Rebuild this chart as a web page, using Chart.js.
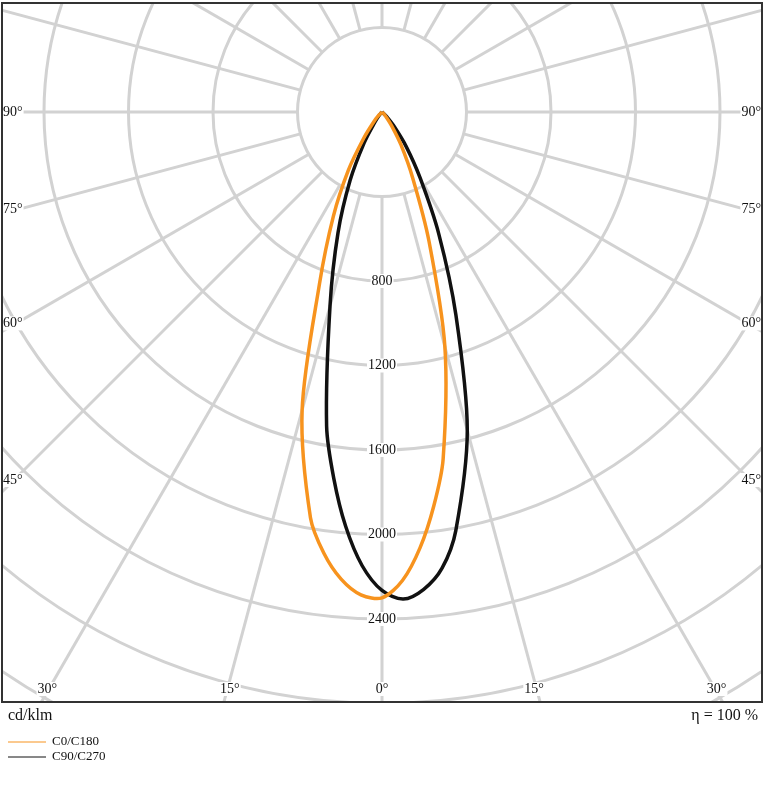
<!DOCTYPE html>
<html>
<head>
<meta charset="utf-8">
<script src="https://cdn.jsdelivr.net/npm/chart.js@4"></script>
<style>
  body { margin: 0; background: #fff; }
  #wrap { width: 778px; height: 800px; }
</style>
</head>
<body>
<div id="wrap"><canvas id="polar" width="778" height="800"></canvas></div>
<script>
// gamma angles (deg) and intensities (cd/klm)
const angles = [0, 2.5, 5, 7.5, 10, 15, 20, 25, 30, 35, 40, 45, 50, 60, 70, 80, 90];
const c0   = [2295, 2220, 2070, 1880, 1667, 1150, 650, 343, 180, 80, 30, 10, 0, 0, 0, 0, 0];
const c180 = [2300, 2288, 2220, 2107, 1950, 1461, 865, 545, 320, 150, 60, 20, 0, 0, 0, 0, 0];
const c90  = [2270, 2308, 2268, 2178, 2012, 1560, 1023, 635, 362, 200, 90, 30, 5, 0, 0, 0, 0];
const c270 = [2265, 2150, 1970, 1749, 1510, 951, 609, 357, 170, 60, 20, 5, 0, 0, 0, 0, 0];
const ringValues = [400, 800, 1200, 1600, 2000, 2400, 2800, 3200, 3600, 4000];
const ringLabels = [800, 1200, 1600, 2000, 2400];
const sideAngleLabels = [90, 75, 60, 45];
const bottomAngleLabels = [30, 15, 0];

function curve(right, left) {
    let pts = [];
    for (let i = angles.length - 1; i >= 0; i--) {
        let a = angles[i] * Math.PI / 180;
        pts.push({ x: -left[i] * Math.sin(a), y: left[i] * Math.cos(a) });
    }
    for (let i = 1; i < angles.length; i++) {
        let a = angles[i] * Math.PI / 180;
        pts.push({ x: right[i] * Math.sin(a), y: right[i] * Math.cos(a) });
    }
    return pts;
}

const serif = '"Liberation Serif", "DejaVu Serif", serif';

const gridPlugin = {
    id: 'polarGrid',
    beforeDatasetsDraw(chart) {
        const ctx = chart.ctx, xs = chart.scales.x, ys = chart.scales.y, ca = chart.chartArea;
        const cx = xs.getPixelForValue(0), cy = ys.getPixelForValue(0);
        const k = xs.getPixelForValue(400) - cx;
        ctx.save();
        ctx.beginPath();
        ctx.rect(ca.left, ca.top, ca.right - ca.left, ca.bottom - ca.top);
        ctx.clip();
        ctx.strokeStyle = '#d2d2d2';
        ctx.lineWidth = 3;
        ringValues.forEach(v => {
            ctx.beginPath();
            ctx.arc(cx, cy, v / 400 * k, 0, Math.PI * 2);
            ctx.stroke();
        });
        for (let d = 0; d < 360; d += 15) {
            let a = d * Math.PI / 180;
            ctx.beginPath();
            ctx.moveTo(cx + k * Math.sin(a), cy + k * Math.cos(a));
            ctx.lineTo(cx + 2000 * Math.sin(a), cy + 2000 * Math.cos(a));
            ctx.stroke();
        }
        ctx.restore();
    },
    afterDraw(chart) {
        const ctx = chart.ctx, xs = chart.scales.x, ys = chart.scales.y, ca = chart.chartArea;
        const cx = xs.getPixelForValue(0), cy = ys.getPixelForValue(0);
        ctx.save();
        ctx.font = '14px ' + serif;
        ctx.fillStyle = '#111';
        ctx.textBaseline = 'middle';

        function label(txt, x, y, align) {
            ctx.textAlign = align;
            let w = ctx.measureText(txt).width;
            let lx = align === 'left' ? x : align === 'right' ? x - w : x - w / 2;
            ctx.fillStyle = '#fff';
            ctx.fillRect(lx - 1, y - 7, w + 2, 14);
            ctx.fillStyle = '#111';
            ctx.fillText(txt, x, y);
        }

        ringLabels.forEach(v => label(String(v), cx, ys.getPixelForValue(v), 'center'));

        sideAngleLabels.forEach(a => {
            let dx = cx - ca.left;
            let ly = cy + dx / Math.tan(a * Math.PI / 180) - (90 - a) / 45 * 12;
            label(a + '°', ca.left + 1, ly, 'left');
            label(a + '°', ca.right - 1, ly, 'right');
        });
        bottomAngleLabels.forEach(a => {
            let dy = ca.bottom - cy;
            let off = dy * Math.tan(a * Math.PI / 180);
            off = off > 0 ? off - 6 : 0;
            label(a + '°', cx - off, ca.bottom - 13, 'center');
            if (a) label(a + '°', cx + off, ca.bottom - 13, 'center');
        });

        ctx.strokeStyle = '#333';
        ctx.lineWidth = 2;
        ctx.strokeRect(ca.left, ca.top, ca.right - ca.left, ca.bottom - ca.top);

        ctx.font = '16px ' + serif;
        ctx.textAlign = 'left';
        ctx.fillText('cd/klm', 8, 716);
        ctx.textAlign = 'right';
        ctx.fillText('η = 100 %', 758, 716);

        ctx.font = '13px ' + serif;
        ctx.textAlign = 'left';
        chart.data.datasets.forEach((ds, i) => {
            let y = 742 + i * 15;
            ctx.strokeStyle = ds.borderColor;
            ctx.lineWidth = 1;
            ctx.beginPath();
            ctx.moveTo(8, y);
            ctx.lineTo(46, y);
            ctx.stroke();
            ctx.fillText(ds.label, 52, y);
        });
        ctx.restore();
    }
};

const k = 84.5 / 400;
new Chart(document.getElementById('polar'), {
    type: 'scatter',
    data: {
        datasets: [
            { label: 'C0/C180', data: curve(c0, c180), borderColor: '#f7931e', borderWidth: 3.5, showLine: true, pointRadius: 0, tension: 0.3 },
            { label: 'C90/C270', data: curve(c90, c270), borderColor: '#111111', borderWidth: 3.5, showLine: true, pointRadius: 0, tension: 0.3 }
        ]
    },
    options: {
        responsive: false,
        animation: false,
        layout: { padding: { left: 2, right: 16, top: 3, bottom: 98 } },
        scales: {
            x: { display: false, min: -380 / k, max: 380 / k },
            y: { display: false, reverse: true, min: -109 / k, max: 590 / k }
        },
        plugins: { legend: { display: false }, tooltip: { enabled: false } }
    },
    plugins: [gridPlugin]
});
</script>
</body>
</html>
